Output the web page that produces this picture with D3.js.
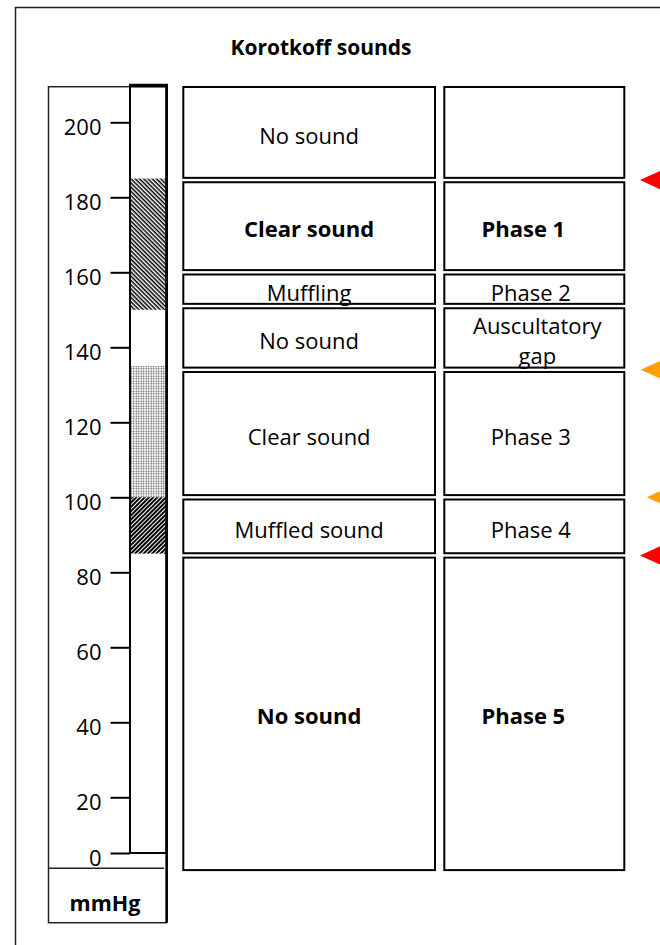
<!DOCTYPE html>
<html><head><meta charset="utf-8">
<script src="https://cdn.jsdelivr.net/npm/d3@7"></script>
<style>
body{margin:0;background:#fff}
svg{display:block;font-family:'Open Sans','Noto Sans',sans-serif}
</style>
</head><body>
<svg id="chart" width="660" height="945"></svg>
<script>
// ---------- DATA ----------
const title = "Korotkoff sounds";
const unitLabel = "mmHg";
const rowBounds = [210, 184.6, 160, 151, 134, 100, 84.5, 0];
const soundLabels = ["No sound", "Clear sound", "Muffling", "No sound", "Clear sound", "Muffled sound", "No sound"];
const phaseLabels = ["", "Phase 1", "Phase 2", "Auscultatory\ngap", "Phase 3", "Phase 4", "Phase 5"];
const tickValues = [0, 20, 40, 60, 80, 100, 120, 140, 160, 180, 200];
const bandTop = [185, 135, 100];
const bandBottom = [150, 100, 85];
const bandKinds = ["hatch", "dots", "darkHatch"];
const markerValues = [184.6, 134, 100, 84.5];
const markerKinds = ["red", "orange", "orangeSmall", "red"];

// ---------- STYLE / LAYOUT ----------
const boldRows = new Set([1, 6]);
const markerStyle = {
  red: {fill: "#ff0000", half: 10, tip: 640},
  orange: {fill: "#ffa000", half: 10.8, tip: 640.7},
  orangeSmall: {fill: "#ffa000", half: 6, tip: 646.7}
};
const col1 = {x0: 183.3, x1: 435};
const col2 = {x0: 444.3, x1: 624.3};
const gap = 2.2;

const svg = d3.select("#chart");
const y = d3.scaleLinear().domain([0, 210]).range([872.3, 84.8]);
const yGauge = d3.scaleLinear().domain([0, 20, 210]).range([853, 797.3, 84.8]);

// patterns
const defs = svg.append("defs");
const p1 = defs.append("pattern").attr("id", "hatch").attr("patternUnits", "userSpaceOnUse")
  .attr("width", 3).attr("height", 3).attr("patternTransform", "rotate(45)");
p1.append("rect").attr("width", 3).attr("height", 3).attr("fill", "#fff");
p1.append("rect").attr("width", 3).attr("height", 1.5).attr("fill", "#000");
const p2 = defs.append("pattern").attr("id", "darkHatch").attr("patternUnits", "userSpaceOnUse")
  .attr("width", 3).attr("height", 3).attr("patternTransform", "rotate(-45)");
p2.append("rect").attr("width", 3).attr("height", 3).attr("fill", "#fff");
p2.append("rect").attr("width", 3).attr("height", 2).attr("fill", "#000");
const p3 = defs.append("pattern").attr("id", "dots").attr("patternUnits", "userSpaceOnUse")
  .attr("width", 2.5).attr("height", 2.5);
p3.append("rect").attr("width", 2.5).attr("height", 2.5).attr("fill", "#fff");
p3.append("circle").attr("cx", 1.25).attr("cy", 1.25).attr("r", 0.75).attr("fill", "#444");

// outer frame
svg.append("rect").attr("x", 15.5).attr("y", 7.5).attr("width", 700).attr("height", 1000)
  .attr("fill", "none").attr("stroke", "#222").attr("stroke-width", 1.5);

// title
svg.append("text").attr("x", 321).attr("y", 55).attr("text-anchor", "middle")
  .attr("font-size", 21).attr("font-weight", "bold").attr("fill", "#000").text(title);

// gauge frame
svg.append("rect").attr("x", 48.5).attr("y", 86.7).attr("width", 118).attr("height", 836)
  .attr("fill", "none").attr("stroke", "#222").attr("stroke-width", 1.5);
svg.append("line").attr("x1", 48.5).attr("x2", 164).attr("y1", 868.3).attr("y2", 868.3)
  .attr("stroke", "#222").attr("stroke-width", 1.5);
svg.append("text").attr("x", 105).attr("y", 911).attr("text-anchor", "middle")
  .attr("font-size", 21.5).attr("font-weight", "bold").text(unitLabel);

// bands in the column
svg.append("g").selectAll("rect").data(bandKinds).join("rect")
  .attr("x", 131).attr("width", 35)
  .attr("y", (d, i) => yGauge(bandTop[i]))
  .attr("height", (d, i) => yGauge(bandBottom[i]) - yGauge(bandTop[i]))
  .attr("fill", d => `url(#${d})`);

// column outline
svg.append("rect").attr("x", 130).attr("y", yGauge(210) + 0.7).attr("width", 36.5)
  .attr("height", yGauge(0) - yGauge(210) - 0.7)
  .attr("fill", "none").attr("stroke", "#000").attr("stroke-width", 2);
svg.append("line").attr("x1", 166.7).attr("x2", 166.7).attr("y1", yGauge(210)).attr("y2", 922.7)
  .attr("stroke", "#000").attr("stroke-width", 2.5);
svg.append("line").attr("x1", 129).attr("x2", 168).attr("y1", yGauge(210) + 0.7).attr("y2", yGauge(210) + 0.7)
  .attr("stroke", "#000").attr("stroke-width", 3.5);

// axis
const axis = d3.axisLeft(yGauge).tickValues(tickValues).tickSize(19.5).tickPadding(9).tickSizeOuter(0);
const ag = svg.append("g").attr("transform", "translate(130,0)").call(axis);
ag.select(".domain").remove();
ag.selectAll(".tick line").attr("stroke", "#000").attr("stroke-width", 2);
ag.selectAll(".tick text").attr("font-size", 22).attr("font-family", "'Open Sans','Noto Sans',sans-serif")
  .attr("fill", "#000").attr("dy", "0.57em");

// boxes
const rows = soundLabels.map((s, i) => ({
  i, sound: s, phase: phaseLabels[i],
  top: y(rowBounds[i]) + gap, bottom: y(rowBounds[i + 1]) - gap
}));
[col1, col2].forEach(c => {
  svg.append("g").selectAll("rect").data(rows).join("rect")
    .attr("x", c.x0).attr("width", c.x1 - c.x0)
    .attr("y", d => d.top).attr("height", d => d.bottom - d.top)
    .attr("fill", "#fff").attr("stroke", "#000").attr("stroke-width", 2);
});

function drawLabel(c, text, d, col) {
  const bold = boldRows.has(d.i);
  const lines = text.split("\n");
  let cx = (c.x0 + c.x1) / 2;
  if (col === 2) cx += bold ? -11 : (lines.length > 1 ? 3 : -3.5);
  const base = (d.top + d.bottom) / 2 + (bold ? 10.5 : 11.5) - (lines.length > 1 ? 0.6 : 0);
  const lh = 30.2;
  const t = svg.append("text").attr("text-anchor", "middle").attr("font-size", 22)
    .attr("font-weight", bold ? "bold" : "normal").attr("fill", "#000");
  lines.forEach((ln, k) => {
    t.append("tspan").attr("x", cx).attr("y", base + (k - (lines.length - 1) / 2) * lh).text(ln);
  });
}
rows.forEach(d => {
  if (d.sound) drawLabel(col1, d.sound, d, 1);
  if (d.phase) drawLabel(col2, d.phase, d, 2);
});

// markers
svg.append("g").selectAll("path").data(markerValues).join("path")
  .attr("d", (v, i) => {
    const s = markerStyle[markerKinds[i]];
    const yy = y(v);
    return `M${s.tip},${yy}L${s.tip + s.half * 2.2},${yy - s.half}L${s.tip + s.half * 2.2},${yy + s.half}Z`;
  })
  .attr("fill", (v, i) => markerStyle[markerKinds[i]].fill);
</script>
</body></html>
